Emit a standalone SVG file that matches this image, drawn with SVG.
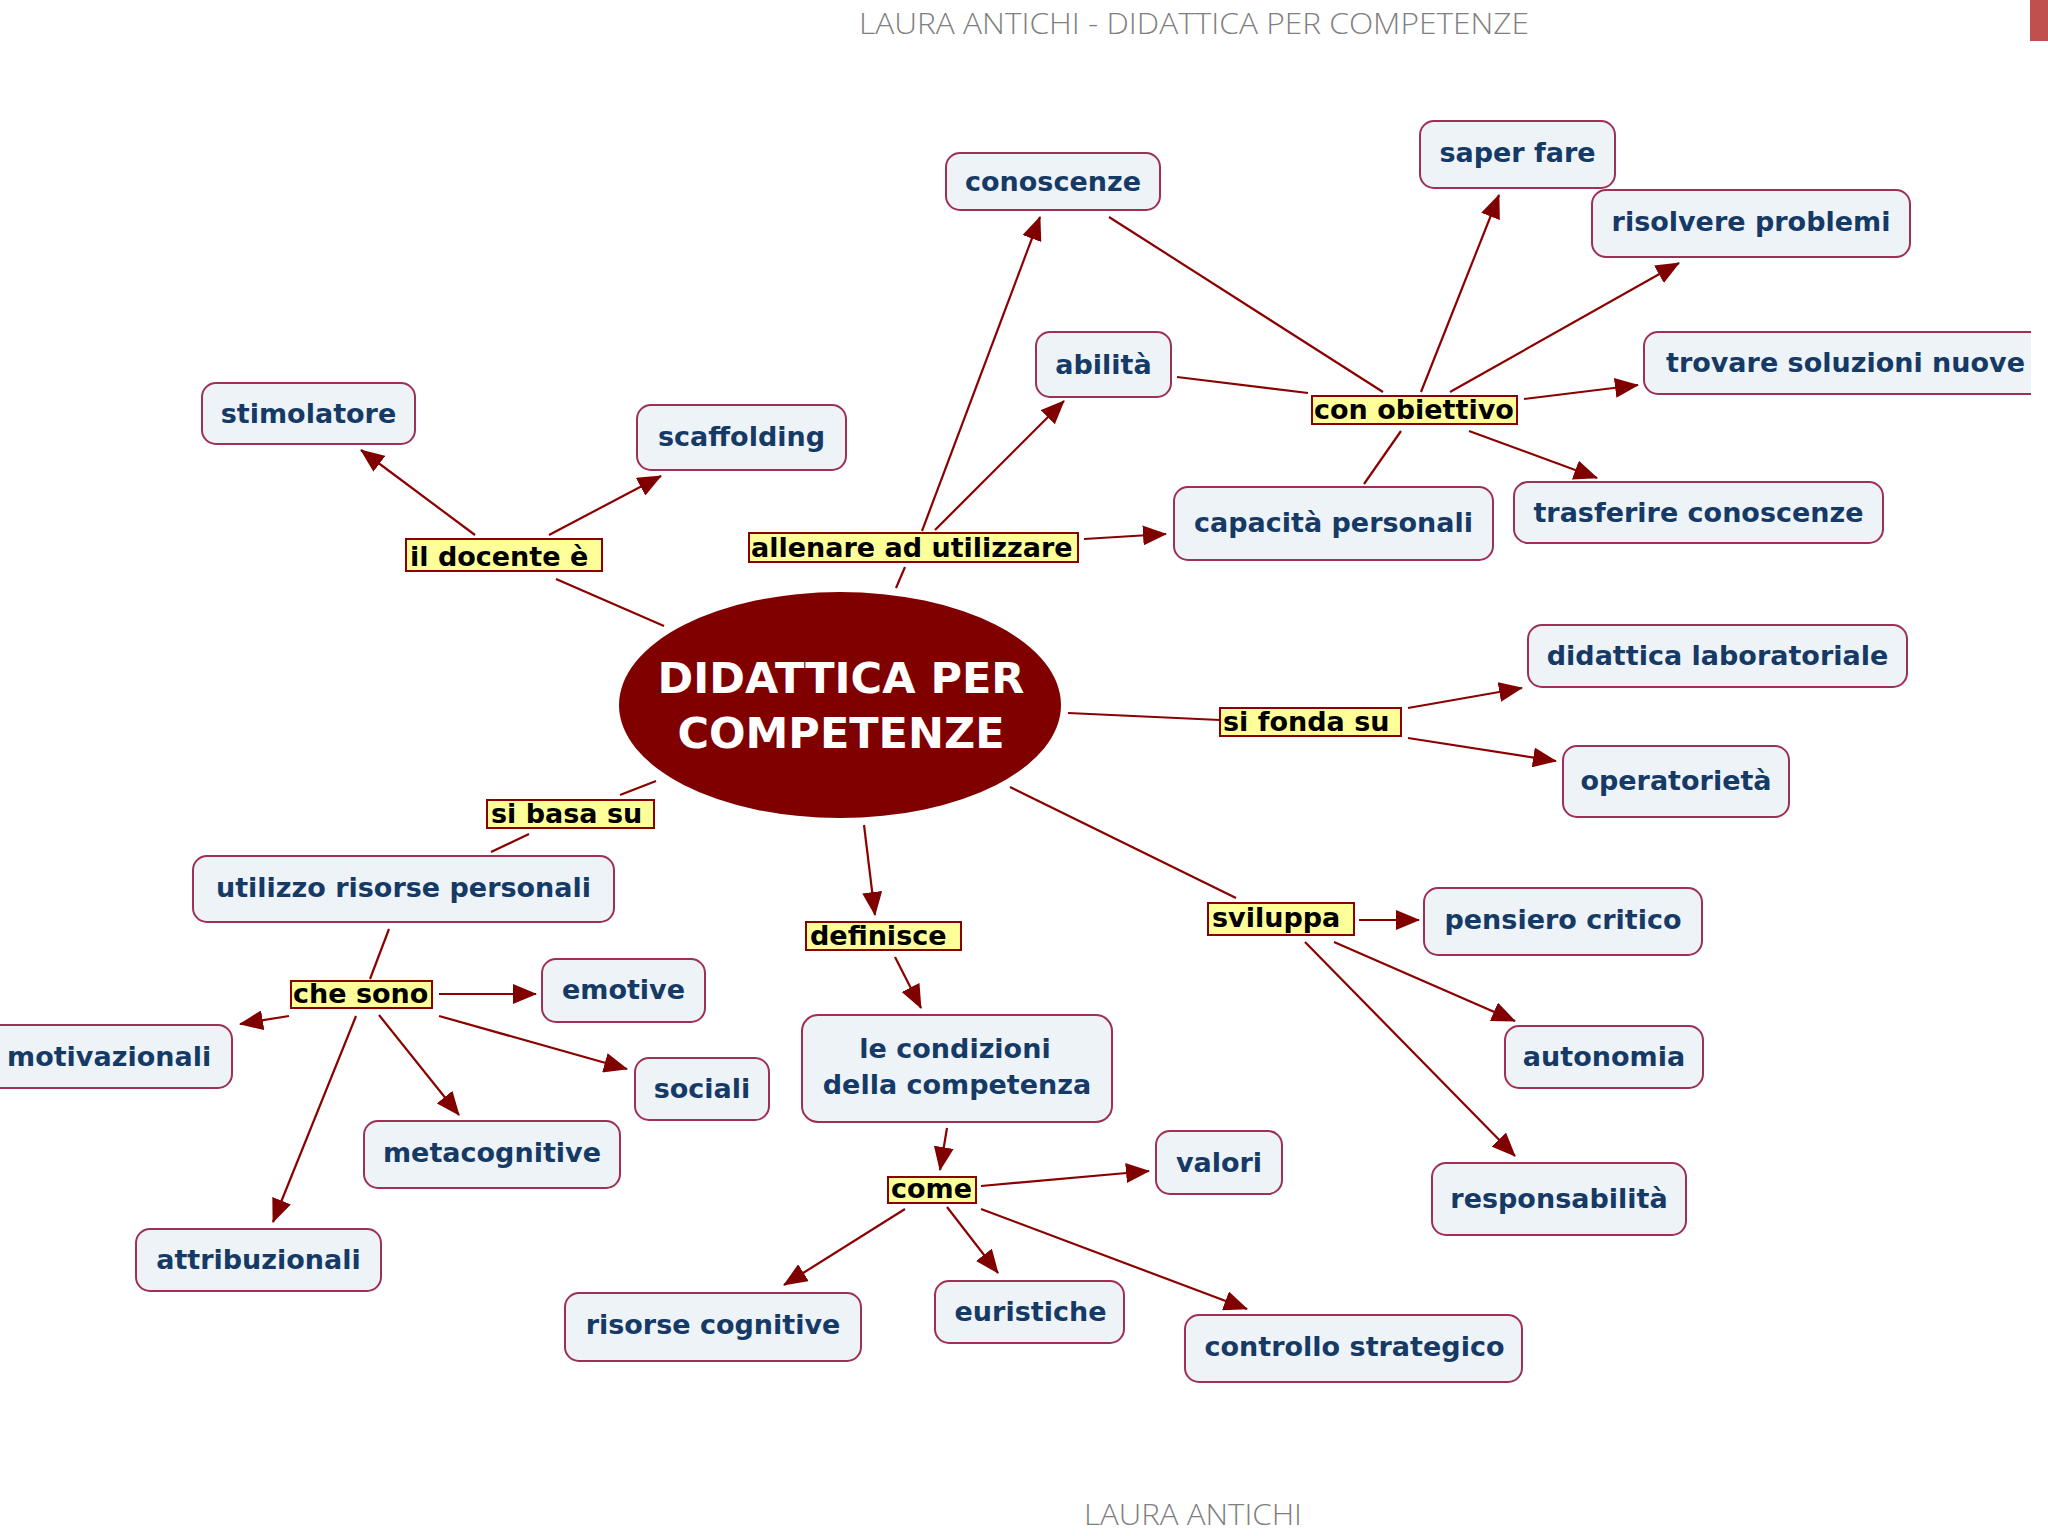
<svg xmlns="http://www.w3.org/2000/svg" width="2048" height="1536" viewBox="0 0 2048 1536">
<defs>
<style>
.nd rect{fill:#eef3f8;stroke:#9e2f55;stroke-width:2}
.nd text{font-family:"DejaVu Sans",Verdana,sans-serif;font-weight:bold;font-size:27px;fill:#163a66;text-anchor:middle}
.lb rect{fill:#ffff99;stroke:#8b0000;stroke-width:2}
.lb text{font-family:"DejaVu Sans",Verdana,sans-serif;font-weight:bold;font-size:27px;fill:#000}
.cn line{stroke:#8b0000;stroke-width:2.2;fill:none}
.cn line.a{marker-end:url(#arr)}
.ttl{font-family:"Open Sans","Liberation Sans",sans-serif;font-weight:300;font-size:29px;fill:#7f7f7f}
</style>
<marker id="arr" viewBox="0 0 24 20" refX="23" refY="10" markerWidth="24" markerHeight="20" orient="auto" markerUnits="userSpaceOnUse">
<path d="M0,0 L24,10 L0,20 z" fill="#800000"/>
</marker>
<clipPath id="clipR"><rect x="0" y="0" width="2031" height="1536"/></clipPath>
</defs>
<rect x="0" y="0" width="2048" height="1536" fill="#ffffff"/>
<rect x="2030" y="0" width="18" height="41" fill="#c0504d"/>
<text class="ttl" x="859" y="34" textLength="670" lengthAdjust="spacingAndGlyphs">LAURA ANTICHI - DIDATTICA PER COMPETENZE</text>
<text class="ttl" x="1084" y="1525" textLength="218" lengthAdjust="spacingAndGlyphs">LAURA ANTICHI</text>

<g id="connectors" class="cn">
<line x1="664" y1="626" x2="556" y2="579"/>
<line class="a" x1="475" y1="535" x2="361" y2="450"/>
<line class="a" x1="549" y1="535" x2="661" y2="476"/>
<line x1="896" y1="588" x2="905" y2="567"/>
<line class="a" x1="922" y1="531" x2="1040" y2="217"/>
<line class="a" x1="935" y1="530" x2="1064" y2="401"/>
<line class="a" x1="1084" y1="539" x2="1166" y2="534"/>
<line x1="1109" y1="217" x2="1383" y2="392"/>
<line x1="1177" y1="377" x2="1308" y2="393"/>
<line x1="1364" y1="484" x2="1401" y2="431"/>
<line class="a" x1="1421" y1="392" x2="1499" y2="195"/>
<line class="a" x1="1450" y1="392" x2="1679" y2="263"/>
<line class="a" x1="1524" y1="399" x2="1638" y2="385"/>
<line class="a" x1="1469" y1="431" x2="1597" y2="478"/>
<line x1="1068" y1="713" x2="1220" y2="720"/>
<line class="a" x1="1408" y1="708" x2="1522" y2="688"/>
<line class="a" x1="1408" y1="738" x2="1556" y2="761"/>
<line x1="1010" y1="787" x2="1236" y2="898"/>
<line class="a" x1="1359" y1="920" x2="1419" y2="920"/>
<line class="a" x1="1334" y1="942" x2="1515" y2="1021"/>
<line class="a" x1="1305" y1="942" x2="1515" y2="1156"/>
<line class="a" x1="864" y1="825" x2="875" y2="915"/>
<line class="a" x1="895" y1="957" x2="921" y2="1008"/>
<line class="a" x1="947" y1="1128" x2="940" y2="1170"/>
<line class="a" x1="981" y1="1186" x2="1149" y2="1171"/>
<line class="a" x1="905" y1="1209" x2="784" y2="1285"/>
<line class="a" x1="947" y1="1207" x2="998" y2="1273"/>
<line class="a" x1="981" y1="1209" x2="1247" y2="1309"/>
<line x1="656" y1="781" x2="620" y2="795"/>
<line x1="529" y1="834" x2="491" y2="852"/>
<line x1="389" y1="929" x2="370" y2="979"/>
<line class="a" x1="439" y1="994" x2="536" y2="994"/>
<line class="a" x1="289" y1="1016" x2="240" y2="1024"/>
<line class="a" x1="439" y1="1016" x2="627" y2="1069"/>
<line class="a" x1="379" y1="1015" x2="459" y2="1115"/>
<line class="a" x1="356" y1="1016" x2="273" y2="1222"/>
</g>

<g id="n-center">
<ellipse cx="840" cy="705" rx="221" ry="113" fill="#800000"/>
<text x="841" y="693" font-family="'DejaVu Sans',Verdana,sans-serif" font-weight="bold" font-size="43" fill="#ffffff" text-anchor="middle">DIDATTICA PER</text>
<text x="841" y="748" font-family="'DejaVu Sans',Verdana,sans-serif" font-weight="bold" font-size="43" fill="#ffffff" text-anchor="middle">COMPETENZE</text>
</g>

<g id="n-stimolatore" class="nd"><rect x="202" y="383" width="213" height="61" rx="14"/><text x="308.5" y="423">stimolatore</text></g>
<g id="n-scaffolding" class="nd"><rect x="637" y="405" width="209" height="65" rx="14"/><text x="741.5" y="446">scaffolding</text></g>
<g id="n-conoscenze" class="nd"><rect x="946" y="153" width="214" height="57" rx="14"/><text x="1053" y="191">conoscenze</text></g>
<g id="n-saperfare" class="nd"><rect x="1420" y="121" width="195" height="67" rx="14"/><text x="1517.5" y="162">saper fare</text></g>
<g id="n-risolvere" class="nd"><rect x="1592" y="190" width="318" height="67" rx="14"/><text x="1751" y="231">risolvere problemi</text></g>
<g id="n-abilita" class="nd"><rect x="1036" y="332" width="135" height="65" rx="14"/><text x="1103.5" y="374">abilità</text></g>
<g id="n-trovare" class="nd" clip-path="url(#clipR)"><rect x="1644" y="332" width="410" height="62" rx="14"/><text x="1666" y="372" style="text-anchor:start">trovare soluzioni nuove</text></g>
<g id="n-capacita" class="nd"><rect x="1174" y="487" width="319" height="73" rx="14"/><text x="1333.5" y="532">capacità personali</text></g>
<g id="n-trasferire" class="nd"><rect x="1514" y="482" width="369" height="61" rx="14"/><text x="1698.5" y="522">trasferire conoscenze</text></g>
<g id="n-didlab" class="nd"><rect x="1528" y="625" width="379" height="62" rx="14"/><text x="1717.5" y="665">didattica laboratoriale</text></g>
<g id="n-operatorieta" class="nd"><rect x="1563" y="746" width="226" height="71" rx="14"/><text x="1676" y="790">operatorietà</text></g>
<g id="n-pensiero" class="nd"><rect x="1424" y="888" width="278" height="67" rx="14"/><text x="1563" y="929">pensiero critico</text></g>
<g id="n-autonomia" class="nd"><rect x="1505" y="1026" width="198" height="62" rx="14"/><text x="1604" y="1066">autonomia</text></g>
<g id="n-responsabilita" class="nd"><rect x="1432" y="1163" width="254" height="72" rx="14"/><text x="1559" y="1208">responsabilità</text></g>
<g id="n-valori" class="nd"><rect x="1156" y="1131" width="126" height="63" rx="14"/><text x="1219" y="1172">valori</text></g>
<g id="n-condizioni" class="nd"><rect x="802" y="1015" width="310" height="107" rx="16"/><text x="955" y="1058">le condizioni</text><text x="957" y="1094">della competenza</text></g>
<g id="n-risorse" class="nd"><rect x="565" y="1293" width="296" height="68" rx="14"/><text x="713" y="1334">risorse cognitive</text></g>
<g id="n-euristiche" class="nd"><rect x="935" y="1281" width="189" height="62" rx="14"/><text x="1030.5" y="1321">euristiche</text></g>
<g id="n-controllo" class="nd"><rect x="1185" y="1315" width="337" height="67" rx="14"/><text x="1354.5" y="1356">controllo strategico</text></g>
<g id="n-sociali" class="nd"><rect x="635" y="1058" width="134" height="62" rx="14"/><text x="702" y="1098">sociali</text></g>
<g id="n-utilizzo" class="nd"><rect x="193" y="856" width="421" height="66" rx="14"/><text x="403.5" y="897">utilizzo risorse personali</text></g>
<g id="n-emotive" class="nd"><rect x="542" y="959" width="163" height="63" rx="14"/><text x="623.5" y="999">emotive</text></g>
<g id="n-motivazionali" class="nd"><rect x="-14" y="1025" width="246" height="63" rx="14"/><text x="7" y="1066" style="text-anchor:start">motivazionali</text></g>
<g id="n-metacognitive" class="nd"><rect x="364" y="1121" width="256" height="67" rx="14"/><text x="492" y="1162">metacognitive</text></g>
<g id="n-attribuzionali" class="nd"><rect x="136" y="1229" width="245" height="62" rx="14"/><text x="258.5" y="1269">attribuzionali</text></g>

<g id="l-docente" class="lb"><rect x="406" y="539" width="196" height="32"/><text x="410" y="566">il docente è</text></g>
<g id="l-allenare" class="lb"><rect x="749" y="533" width="329" height="29"/><text x="751" y="557">allenare ad utilizzare</text></g>
<g id="l-obiettivo" class="lb"><rect x="1312" y="396" width="205" height="28"/><text x="1314" y="419">con obiettivo</text></g>
<g id="l-fonda" class="lb"><rect x="1220" y="708" width="181" height="28"/><text x="1223" y="731">si fonda su</text></g>
<g id="l-sviluppa" class="lb"><rect x="1208" y="903" width="146" height="32"/><text x="1212" y="927">sviluppa</text></g>
<g id="l-definisce" class="lb"><rect x="806" y="922" width="155" height="28"/><text x="810" y="945">definisce</text></g>
<g id="l-basa" class="lb"><rect x="487" y="800" width="167" height="28"/><text x="491" y="823">si basa su</text></g>
<g id="l-chesono" class="lb"><rect x="291" y="981" width="141" height="27"/><text x="293" y="1003">che sono</text></g>
<g id="l-come" class="lb"><rect x="888" y="1177" width="88" height="26"/><text x="891" y="1198">come</text></g>
</svg>
